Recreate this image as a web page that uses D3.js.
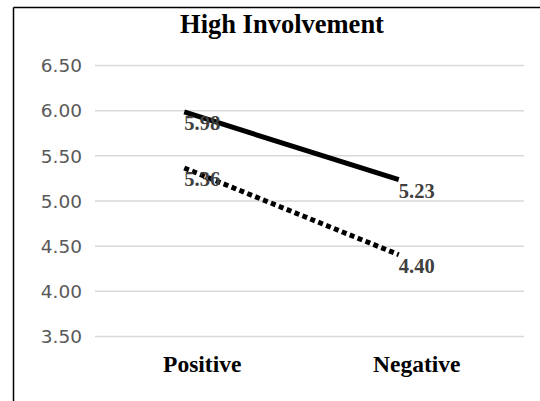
<!DOCTYPE html>
<html>
<head>
<meta charset="utf-8">
<script src="https://cdn.jsdelivr.net/npm/d3@7"></script>
<style>
  html, body { margin: 0; padding: 0; background: #fff; }
  svg { display: block; }
</style>
</head>
<body>
<svg id="chart" width="540" height="401"></svg>
<script>
// Chart data
const title = "High Involvement";
const categories = ["Positive", "Negative"];
const solidValues = [5.98, 5.23];
const dottedValues = [5.36, 4.40];
const yTicks = [3.5, 4.0, 4.5, 5.0, 5.5, 6.0, 6.5];

const svg = d3.select("#chart");
const W = 540, H = 401;
const plot = { left: 95, right: 524, top: 65, bottom: 336 };

// Frame: top and left edges only
svg.append("line").attr("x1", 13.5).attr("x2", W).attr("y1", 7.5).attr("y2", 7.5)
  .attr("stroke", "#000").attr("stroke-width", 1.5);
svg.append("line").attr("x1", 13.5).attr("x2", 13.5).attr("y1", 7.5).attr("y2", H)
  .attr("stroke", "#000").attr("stroke-width", 1.5);

const x = d3.scaleBand().domain(categories).range([plot.left, plot.right]);
const y = d3.scaleLinear().domain([3.5, 6.5]).range([plot.bottom, plot.top]);

// Gridlines + tick labels
const yAxis = d3.axisLeft(y)
  .tickValues(yTicks)
  .tickFormat(d3.format(".2f"))
  .tickSize(-(plot.right - plot.left))
  .tickPadding(13);
const gy = svg.append("g").attr("transform", `translate(${plot.left},0)`).call(yAxis);
gy.select(".domain").remove();
gy.selectAll(".tick line").attr("stroke", "#d9d9d9").attr("stroke-width", 1.5);
gy.selectAll(".tick text")
  .attr("fill", "#595959")
  .attr("font-family", "'DejaVu Sans', sans-serif")
  .attr("font-size", 18.5)
  .attr("dy", "0.36em");

// Category labels
const xAxis = d3.axisBottom(x).tickSize(0).tickPadding(0);
const gx = svg.append("g").attr("transform", `translate(0,${plot.bottom})`).call(xAxis);
gx.select(".domain").remove();
gx.selectAll(".tick text")
  .attr("y", 36)
  .attr("dy", 0)
  .attr("fill", "#000")
  .attr("font-family", "'Liberation Serif', 'Times New Roman', serif")
  .attr("font-weight", "bold")
  .attr("font-size", 23.5);

// Title
svg.append("text")
  .attr("x", 282).attr("y", 33)
  .attr("text-anchor", "middle")
  .attr("font-family", "'Liberation Serif', 'Times New Roman', serif")
  .attr("font-weight", "bold")
  .attr("font-size", 26.5)
  .attr("fill", "#000")
  .text(title);

// Series lines
const px = c => x(c) + x.bandwidth() / 2 - 18;
const lineGen = d3.line().x(d => px(d.c)).y(d => y(d.v));

const series = [
  { values: solidValues, dash: null },
  { values: dottedValues, dash: "5,3.5" }
];

series.forEach(s => {
  const pts = categories.map((c, i) => ({ c, v: s.values[i] }));
  svg.append("path")
    .datum(pts)
    .attr("d", lineGen)
    .attr("fill", "none")
    .attr("stroke", "#000")
    .attr("stroke-width", 5)
    .attr("stroke-dasharray", s.dash);

  svg.selectAll(null)
    .data(pts)
    .enter().append("text")
    .attr("x", d => px(d.c))
    .attr("y", d => y(d.v) + 18)
    .attr("font-family", "'Liberation Serif', 'Times New Roman', serif")
    .attr("font-weight", "bold")
    .attr("font-size", 20.5)
    .attr("fill", "#404040")
    .text(d => d3.format(".2f")(d.v));
});
</script>
</body>
</html>
